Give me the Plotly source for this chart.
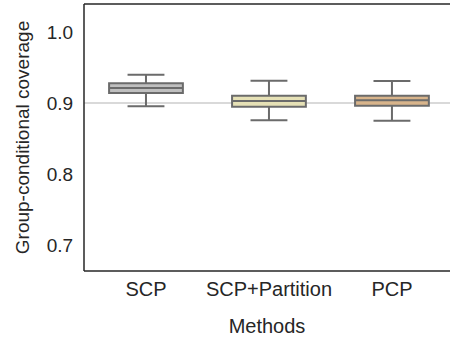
import plotly.graph_objects as go

methods = ["SCP", "SCP+Partition", "PCP"]
lower_whisker = [0.8954, 0.8756, 0.8751]
q1 = [0.9141, 0.8948, 0.8962]
median = [0.9211, 0.9028, 0.9038]
q3 = [0.9277, 0.9103, 0.9103]
upper_whisker = [0.9399, 0.9314, 0.9310]
fill_colors = ["#bfbfbf", "#e6e1b6", "#d8b48b"]
target = 0.9
y_ticks = [0.7, 0.8, 0.9, 1.0]

fig = go.Figure()
for i, m in enumerate(methods):
    fig.add_trace(go.Box(
        x=[m], q1=[q1[i]], median=[median[i]], q3=[q3[i]],
        lowerfence=[lower_whisker[i]], upperfence=[upper_whisker[i]],
        fillcolor=fill_colors[i], line=dict(color="#6b6b6b", width=2),
        width=0.6, whiskerwidth=0.5, boxpoints=False, showlegend=False,
        hoverinfo="skip",
    ))

frame = dict(color="#262626", width=1.5)
fig.add_shape(type="line", xref="paper", x0=0, x1=1, yref="y", y0=target, y1=target,
              line=dict(color="#cccccc", width=1.5), layer="below")
fig.add_shape(type="line", xref="paper", x0=0, x1=1, yref="paper", y0=1, y1=1, line=frame)
fig.add_shape(type="line", xref="paper", x0=0, x1=1, yref="paper", y0=0, y1=0, line=frame)
fig.add_shape(type="line", xref="paper", x0=0, x1=0, yref="paper", y0=0, y1=1, line=frame)

fam = "Liberation Sans, Arial, sans-serif"
fig.update_layout(
    width=450, height=339,
    margin=dict(l=84, r=0, t=4, b=68, autoexpand=False),
    plot_bgcolor="white", paper_bgcolor="white",
    font=dict(family=fam, size=19, color="#262626"),
    xaxis=dict(
        range=[-0.504, 2.472], showline=False, showgrid=False, zeroline=False,
        ticks="outside", ticklen=0, tickcolor="rgba(0,0,0,0)",
        title=dict(text="Methods", standoff=19, font=dict(family=fam, size=20, color="#262626")),
        tickfont=dict(family=fam, size=20, color="#262626"), automargin=False,
    ),
    yaxis=dict(
        range=[0.6634, 1.0394], tickvals=y_ticks, ticktext=["0.7", "0.8", "0.9", "1.0"],
        showline=False, showgrid=False, zeroline=False,
        ticks="outside", ticklen=6, tickcolor="rgba(0,0,0,0)",
        title=dict(text="Group-conditional coverage", standoff=12,
                   font=dict(family=fam, size=19, color="#262626")),
        tickfont=dict(family=fam, size=19, color="#262626"), automargin=False,
    ),
)
fig.write_html("out.html", config={"responsive": False, "displayModeBar": False},
               post_script="document.body.style.margin='0';document.body.style.overflow='hidden';"
                           "document.documentElement.style.overflow='hidden';")
